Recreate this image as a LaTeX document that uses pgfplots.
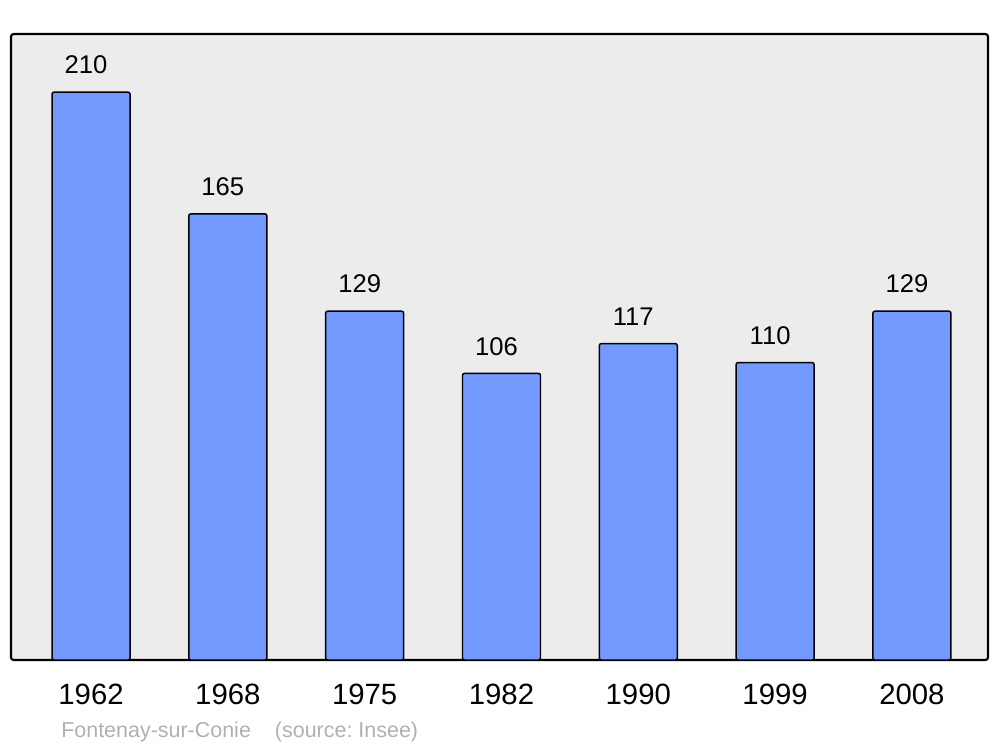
\documentclass[border=0pt]{standalone}
\usepackage{pgfplots}
\pgfplotsset{compat=1.18}
\usepackage{fontspec}
\setmainfont{Liberation Sans}
\definecolor{barblue}{HTML}{7399FF}
\definecolor{bggray}{HTML}{ECECEC}
\definecolor{srcgray}{HTML}{B0B0B0}
\begin{document}
\frenchspacing
\begin{tikzpicture}
\begin{axis}[
  name=ax,
  scale only axis,
  width=732.75pt, height=469.5pt,
  xmin=-0.585, xmax=6.556,
  ymin=0, ymax=231.5,
  axis background/.style={fill=bggray},
  axis line style={line width=1.6pt, rounded corners=2pt},
  xtick={0,1,2,3,4,5,6},
  xticklabels={1962,1968,1975,1982,1990,1999,2008},
  ytick=\empty,
  major tick length=0pt,
  xticklabel style={font=\fontsize{22}{26}\selectfont, inner sep=0pt, anchor=north, yshift=-18pt},
  /pgf/number format/assume math mode=true,
  ybar, bar width=58.5pt,
  nodes near coords,
  every node near coord/.append style={font=\fontsize{19.2}{23}\selectfont, inner sep=0pt, anchor=south, yshift=13pt, xshift=-3.75pt, black},
  clip=false,
]
\addplot[fill=barblue, draw=black, line width=1.1pt, rounded corners=1.5pt] coordinates {
(0,210) (1,165) (2,129) (3,106) (4,117) (5,110) (6,129)};
\end{axis}
\node[anchor=base west, font=\fontsize{16.1}{19}\selectfont, text=srcgray, inner sep=0pt] at ([xshift=37.5pt,yshift=-57.75pt]ax.south west) {Fontenay-sur-Conie\hspace{18pt}(source: Insee)};
\path ([xshift=-8.25pt,yshift=-65.25pt]ax.south west) rectangle ([xshift=9pt,yshift=25.5pt]ax.north east);
\end{tikzpicture}
\end{document}
